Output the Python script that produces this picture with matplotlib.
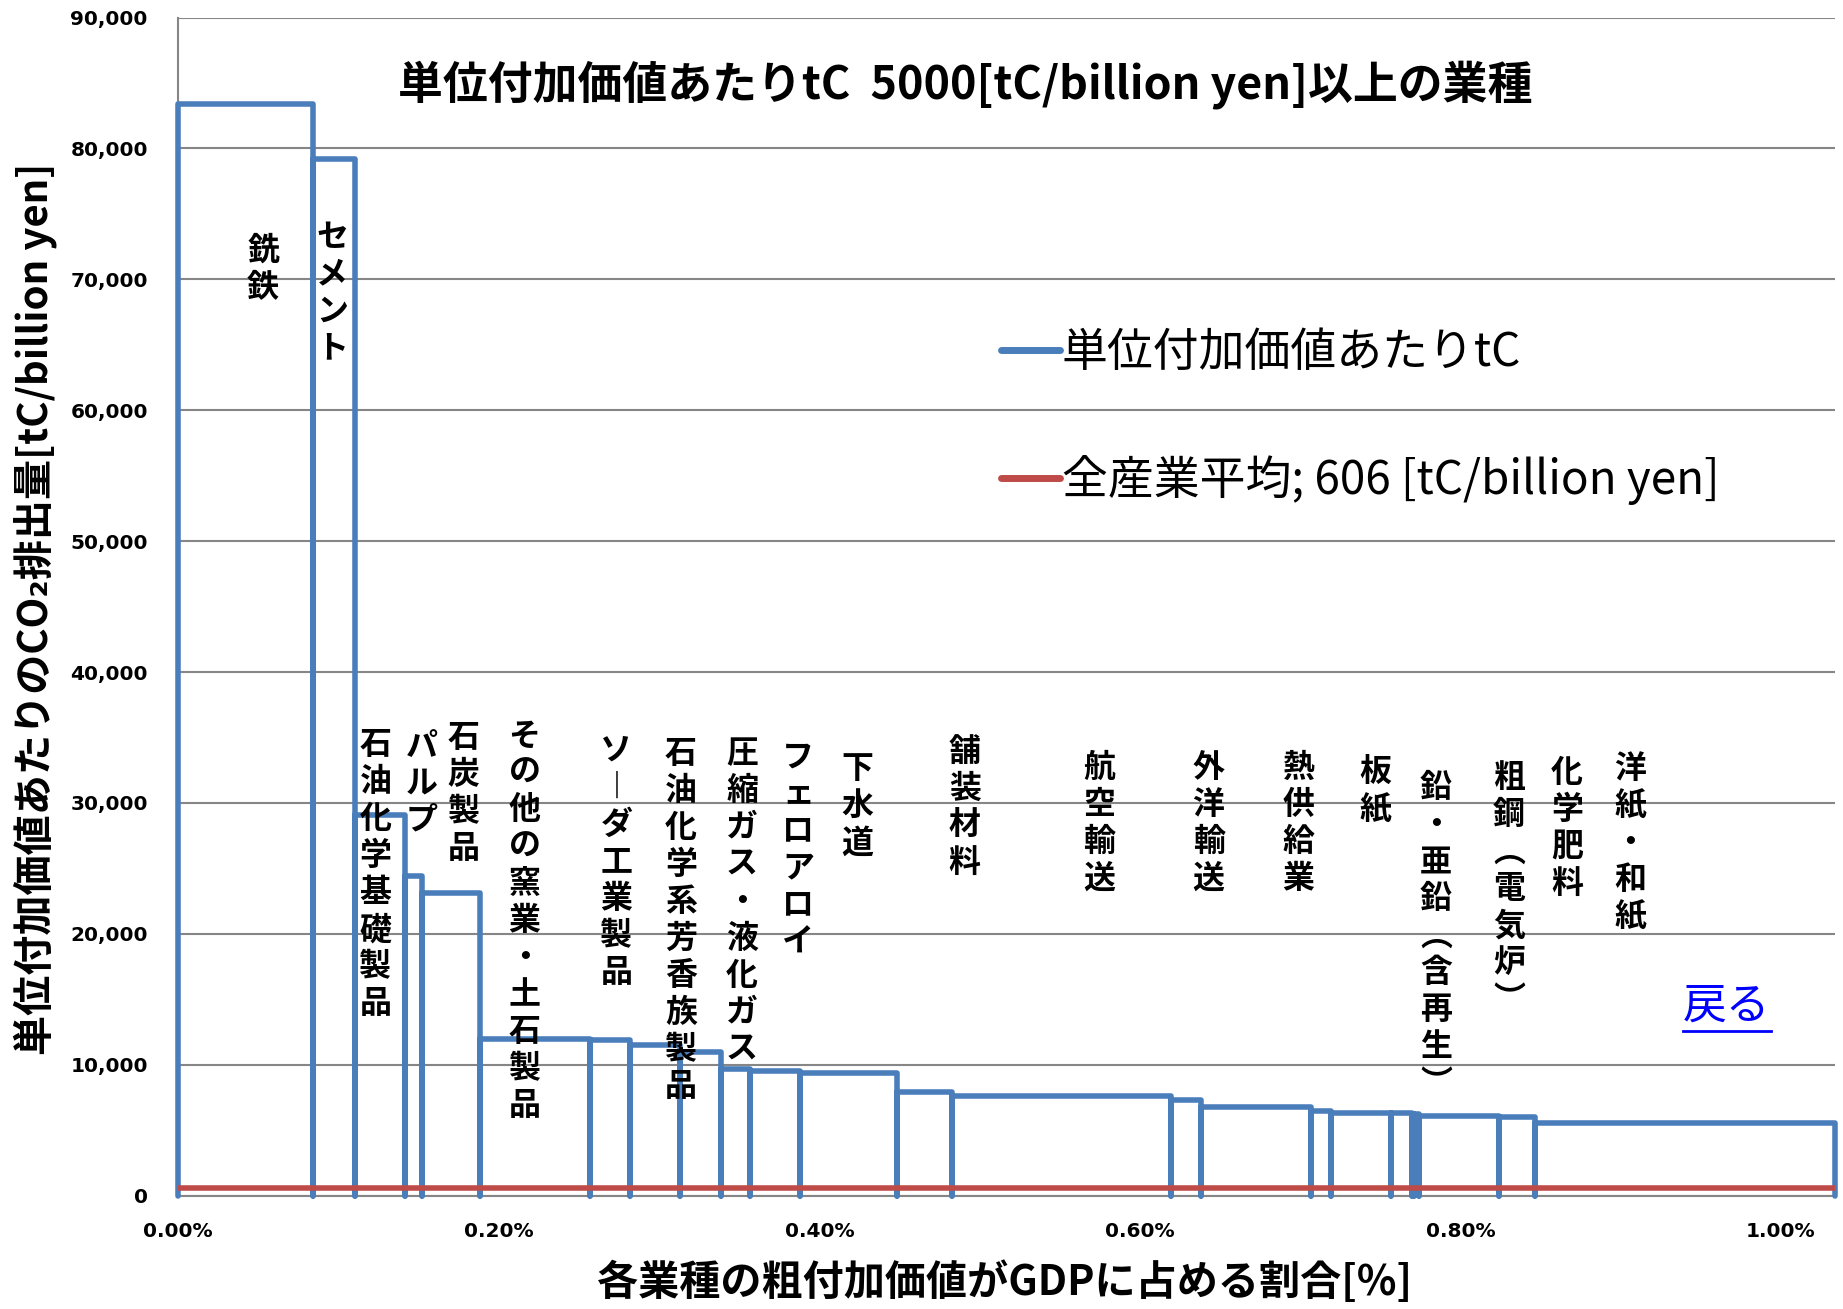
import numpy as np
import matplotlib
matplotlib.use("Agg")
import matplotlib.pyplot as plt
from matplotlib.ticker import FuncFormatter, FixedLocator
from matplotlib.lines import Line2D

plt.rcParams['font.family'] = ['Noto Sans CJK JP', 'DejaVu Sans']

# Share of GDP held by each industry's gross value added [%], in descending order of intensity
gdp_share = [0.0839, 0.0264, 0.0312, 0.0104, 0.0364, 0.0686, 0.0250, 0.0312,
             0.0254, 0.0183, 0.0312, 0.0604, 0.0343, 0.1367, 0.0187, 0.0688,
             0.0125, 0.0376, 0.0127, 0.0014, 0.0033, 0.0499, 0.0223, 0.1872]

# CO2 emitted per unit of value added [tC/billion yen]
intensity = [83400, 79200, 29100, 24400, 23100, 11950, 11900, 11480,
             10970, 9700, 9540, 9400, 7910, 7580, 7320, 6760,
             6480, 6310, 6290, 6260, 6230, 6120, 6040, 5540]

# All-industry average [tC/billion yen]
all_industry_avg = 606

industry_names = ["銑鉄", "セメント", "石油化学基礎製品", "パルプ", "石炭製品",
                  "その他の窯業・土石製品", "ソーダ工業製品", "石油化学系芳香族製品",
                  "圧縮ガス・液化ガス", "フェロアロイ", "下水道", "舗装材料",
                  "航空輸送", "外洋輸送", "熱供給業", "板紙", "鉛・亜鉛(含再生)",
                  "粗鋼(電気炉)", "化学肥料", "洋紙・和紙"]

x_ticks = [0.0, 0.2, 0.4, 0.6, 0.8, 1.0]
y_ticks = [0, 10000, 20000, 30000, 40000, 50000, 60000, 70000, 80000, 90000]

title_text = "単位付加価値あたりtC  5000[tC/billion yen]以上の業種"
series_label = "単位付加価値あたりtC"
avg_label = "全産業平均; 606 [tC/billion yen]"
x_label = "各業種の粗付加価値がGDPに占める割合[%]"
y_label = "単位付加価値あたりのCO₂排出量[tC/billion yen]"
back_link = "戻る"

# Where each vertical industry label sits: centre x [%] and top y [tC/billion yen]
label_anchor_x = [0.0529, 0.0959, 0.1230, 0.1519, 0.1782, 0.2161, 0.2734, 0.3136,
                  0.3518, 0.3867, 0.4239, 0.4908, 0.5744, 0.6429, 0.6990, 0.7468,
                  0.7848, 0.8304, 0.8666, 0.9059]
label_anchor_top = [73400, 74400, 35650, 35520, 36190, 36320, 35200, 34980,
                    34980, 34710, 33790, 35120, 33920, 33920, 33920, 33510,
                    32340, 33110, 33510, 33790]

BLUE = "#4A7EBB"
RED = "#BE4B48"
GRID = "#868686"

# glyph substitutions for top-to-bottom writing
VERTICAL_FORMS = {"ー": "︱", "(": "︵", ")": "︶"}


def stack_vertically(s):
    return "\n".join(VERTICAL_FORMS.get(c, c) for c in s)


fig = plt.figure(figsize=(18.43, 13.09), dpi=100)
ax = fig.add_axes([0.09675, 0.08656, 0.8989, 0.9])

# outline of each industry column: every boundary drops back to zero
edges = np.concatenate([[0.0], np.cumsum(gdp_share)])
xs, ys = [edges[0]], [0.0]
for left, right, h in zip(edges[:-1], edges[1:], intensity):
    xs += [left, right, right]
    ys += [h, h, 0.0]
ax.plot(xs, ys, color=BLUE, lw=4.0, solid_joinstyle='round',
        solid_capstyle='round', clip_on=False, zorder=3, label=series_label)

ax.plot([edges[0], edges[-1]], [all_industry_avg, all_industry_avg],
        color=RED, lw=4.0, solid_capstyle='butt', zorder=4, label=avg_label)

ax.set_xlim(0, edges[-1])
ax.set_ylim(0, 90000)
ax.xaxis.set_major_locator(FixedLocator(x_ticks))
ax.yaxis.set_major_locator(FixedLocator(y_ticks))
ax.xaxis.set_major_formatter(FuncFormatter(lambda v, _: f"{v:.2f}%"))
ax.yaxis.set_major_formatter(FuncFormatter(lambda v, _: f"{int(round(v)):,}"))
ax.tick_params(axis='both', length=0, labelsize=14.5, labelcolor='black')
ax.tick_params(axis='y', pad=22)
ax.tick_params(axis='x', pad=19)
for t in ax.get_xticklabels() + ax.get_yticklabels():
    t.set_family(['DejaVu Sans'])
    t.set_fontweight('bold')

ax.grid(axis='y', color=GRID, lw=1.5, zorder=1)
ax.set_axisbelow(True)
for side in ('top', 'right'):
    ax.spines[side].set_visible(False)
for side in ('left', 'bottom'):
    ax.spines[side].set_color(GRID)
    ax.spines[side].set_linewidth(1.5)

ax.set_xlabel(x_label, fontsize=29.6, fontweight='bold')
ax.xaxis.set_label_coords(0.499, -0.056)
ax.set_ylabel(y_label, fontsize=28.9, fontweight='bold')
ax.yaxis.set_label_coords(-0.073, 0.498)

ax.text(0.4752, 0.943, title_text, transform=ax.transAxes, ha='center',
        va='center', fontsize=32.3, fontweight='bold')

for name, x, top in zip(industry_names, label_anchor_x, label_anchor_top):
    ax.text(x, top, stack_vertically(name), ha='center', va='top',
            fontsize=23, fontweight='bold', linespacing=1.2, zorder=5)

handles = [Line2D([], [], color=BLUE, lw=5, solid_capstyle='round'),
           Line2D([], [], color=RED, lw=5, solid_capstyle='round')]
ax.legend(handles, [series_label, avg_label], loc='upper left',
          bbox_to_anchor=(1001 / 1843, 1 - 329 / 1309),
          bbox_transform=fig.transFigure, frameon=False, fontsize=33,
          handlelength=1.28, handletextpad=0.05, labelspacing=1.7,
          borderpad=0, borderaxespad=0)

link = fig.text(1727 / 1843, 1 - 1006 / 1309, back_link, ha='center',
                va='center', fontsize=31.5, color='#0000FF')

# underline the link text
fig.canvas.draw()
bb = link.get_window_extent(renderer=fig.canvas.get_renderer())
W, H = fig.bbox.width, fig.bbox.height
uy = (bb.y0 - 2) / H
fig.add_artist(Line2D([bb.x0 / W, bb.x1 / W], [uy, uy], color='#0000FF',
                      lw=2, transform=fig.transFigure))

fig.savefig("out.png", dpi=100)
